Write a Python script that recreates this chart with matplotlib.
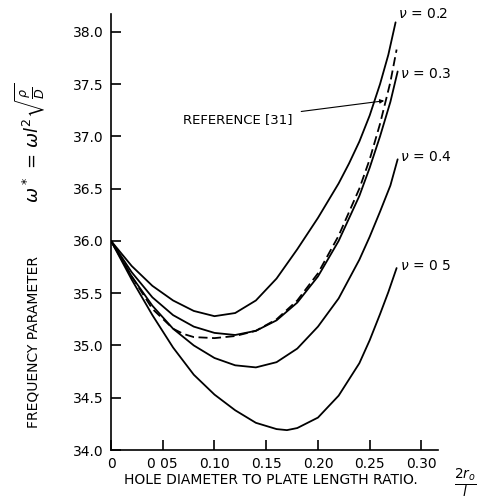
import matplotlib
matplotlib.use("Agg")
import matplotlib.pyplot as plt

# ---- data ----
nu02_x = [0, 0.02, 0.04, 0.06, 0.08, 0.10, 0.12, 0.14, 0.16, 0.18, 0.20, 0.22, 0.23, 0.24, 0.25, 0.26, 0.268, 0.275]
nu02_y = [36.0, 35.76, 35.57, 35.43, 35.33, 35.28, 35.31, 35.43, 35.64, 35.92, 36.22, 36.55, 36.74, 36.95, 37.20, 37.50, 37.78, 38.09]

nu03_x = [0, 0.02, 0.04, 0.06, 0.08, 0.10, 0.12, 0.14, 0.16, 0.18, 0.20, 0.22, 0.24, 0.25, 0.26, 0.27, 0.277]
nu03_y = [36.0, 35.70, 35.46, 35.29, 35.18, 35.12, 35.10, 35.14, 35.24, 35.41, 35.66, 36.00, 36.43, 36.70, 37.00, 37.33, 37.62]

ref31_x = [0, 0.02, 0.04, 0.06, 0.07, 0.08, 0.10, 0.12, 0.14, 0.16, 0.18, 0.20, 0.22, 0.24, 0.25, 0.26, 0.27, 0.276]
ref31_y = [36.0, 35.66, 35.35, 35.16, 35.11, 35.08, 35.07, 35.09, 35.14, 35.25, 35.43, 35.69, 36.05, 36.50, 36.78, 37.12, 37.52, 37.83]

nu04_x = [0, 0.02, 0.04, 0.06, 0.08, 0.10, 0.12, 0.14, 0.16, 0.18, 0.20, 0.22, 0.24, 0.25, 0.26, 0.27, 0.277]
nu04_y = [36.0, 35.66, 35.38, 35.16, 35.00, 34.88, 34.81, 34.79, 34.84, 34.97, 35.18, 35.45, 35.82, 36.04, 36.28, 36.53, 36.78]

nu05_x = [0, 0.02, 0.04, 0.06, 0.08, 0.10, 0.12, 0.14, 0.16, 0.17, 0.18, 0.20, 0.22, 0.24, 0.25, 0.26, 0.268, 0.276]
nu05_y = [36.0, 35.63, 35.29, 34.98, 34.72, 34.53, 34.38, 34.26, 34.20, 34.19, 34.21, 34.31, 34.52, 34.83, 35.05, 35.30, 35.51, 35.74]

curve_labels = [r"$\nu$ = 0.2", r"$\nu$ = 0.3", r"$\nu$ = 0.4", r"$\nu$ = 0 5"]
label_pos = [(0.277, 38.17), (0.279, 37.60), (0.279, 36.80), (0.279, 35.76)]

ytick_vals = [34.0, 34.5, 35.0, 35.5, 36.0, 36.5, 37.0, 37.5, 38.0]
ytick_labels = ["34.0", "34.5", "35.0", "35.5", "36.0", "36.5", "37.0", "37.5", "38.0"]
xtick_vals = [0, 0.05, 0.10, 0.15, 0.20, 0.25, 0.30]
xtick_labels = ["0", "0 05", "0.10", "0.15", "0.20", "0.25", "0.30"]

# ---- figure ----
fig = plt.figure(figsize=(4.8, 5.04), dpi=100)
ax = fig.add_axes([111/480, 54/504, (438-111)/480, (450-14)/504])

lw = 1.3
for xs, ys in [(nu02_x, nu02_y), (nu03_x, nu03_y), (nu04_x, nu04_y), (nu05_x, nu05_y)]:
    ax.plot(xs, ys, color="black", lw=lw, solid_capstyle="round", solid_joinstyle="round")
ax.plot(ref31_x, ref31_y, color="black", lw=lw, ls=(0, (5, 2.5)))

for txt, (x, y) in zip(curve_labels, label_pos):
    ax.text(x, y, txt, fontsize=10, va="center", ha="left")

ax.annotate("REFERENCE [31]", xy=(0.264, 37.34), xytext=(0.070, 37.16),
            fontsize=9.5, va="center", ha="left",
            arrowprops=dict(arrowstyle="-|>", lw=0.8, color="black",
                            mutation_scale=6, shrinkA=4, shrinkB=0))

ax.set_xlim(0, 0.316)
ax.set_ylim(34.0, 38.17)
ax.spines["top"].set_visible(False)
ax.spines["right"].set_visible(False)
ax.spines["left"].set_linewidth(1.2)
ax.spines["bottom"].set_linewidth(1.2)

ax.set_yticks(ytick_vals)
ax.set_yticklabels(ytick_labels, fontsize=10)
ax.set_xticks(xtick_vals)
ax.set_xticklabels(xtick_labels, fontsize=10)
ax.tick_params(axis="both", direction="in", length=7, width=1.2, pad=5)

fig.text(0.069, 0.321, "FREQUENCY PARAMETER", rotation=90, fontsize=10,
         ha="center", va="center")
fig.text(0.062, 0.718, r"$\omega^* \,=\, \omega l^2\sqrt{\frac{\rho}{D}}$", rotation=90,
         fontsize=13, ha="center", va="center")
fig.text(0.565, 0.0476, "HOLE DIAMETER TO PLATE LENGTH RATIO.", fontsize=10,
         ha="center", va="center")
fig.text(0.969, 0.040, r"$\frac{2r_o}{l}$", fontsize=14, ha="center", va="center")

fig.savefig("out.png", dpi=100)
